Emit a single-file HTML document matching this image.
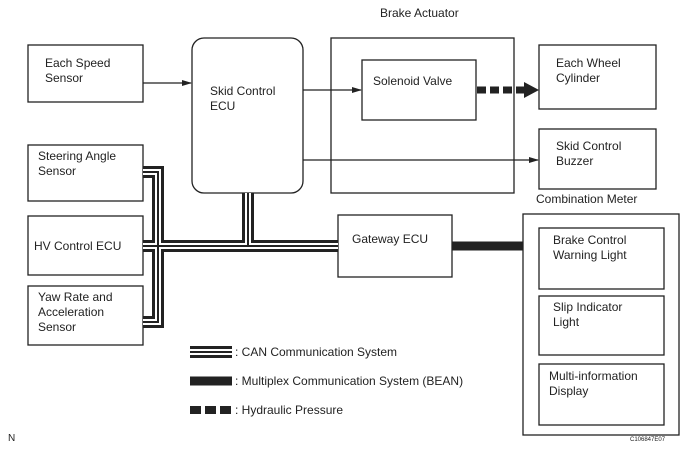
<!DOCTYPE html>
<html><head><style>
body{margin:0;background:#fff;}
svg text{font-family:"Liberation Sans",sans-serif;font-size:12px;fill:#222;}
</style></head><body>
<svg width="691" height="451" viewBox="0 0 691 451" xmlns="http://www.w3.org/2000/svg">
<defs><marker id="a" markerWidth="10" markerHeight="8" refX="9" refY="4" orient="auto" markerUnits="userSpaceOnUse"><path d="M0,1 L10,4 L0,7z" fill="#222"/></marker></defs>
<g fill="none" stroke="#222" stroke-width="1.3">
<rect x="28" y="45" width="115" height="57"/>
<rect x="192" y="38" width="111" height="155" rx="12"/>
<rect x="331" y="38" width="183" height="155"/>
<rect x="362" y="60" width="114" height="60"/>
<rect x="539" y="45" width="117" height="64"/>
<rect x="539" y="129" width="117" height="60"/>
<rect x="28" y="145" width="115" height="56"/>
<rect x="28" y="216" width="115" height="59"/>
<rect x="28" y="286" width="115" height="59"/>
<rect x="338" y="215" width="114" height="62"/>
<rect x="523" y="214" width="156" height="221"/>
<rect x="539" y="228" width="125" height="61"/>
<rect x="539" y="296" width="125" height="59"/>
<rect x="539" y="364" width="125" height="61"/>
<line x1="143" y1="83" x2="191" y2="83" marker-end="url(#a)"/>
<line x1="303" y1="90" x2="361" y2="90" marker-end="url(#a)"/>
<line x1="303" y1="160" x2="538" y2="160" marker-end="url(#a)"/>
</g>
<line x1="477" y1="90" x2="525" y2="90" stroke="#222" stroke-width="7" stroke-dasharray="9,4"/>
<path d="M524,82 L539,90 L524,98z" fill="#222"/>
<g fill="none" stroke-linejoin="miter">
<g stroke="#222" stroke-width="12"><path d="M143,172 H158 V322 H143"/><path d="M143,246 H338"/><path d="M248,193 V246"/></g>
<g stroke="#fff" stroke-width="6"><path d="M143,172 H158 V322 H143"/><path d="M143,246 H338"/><path d="M248,193 V246"/></g>
<g stroke="#222" stroke-width="2"><path d="M143,172 H158 V322 H143"/><path d="M143,246 H338"/><path d="M248,193 V246"/></g>
</g>
<line x1="452" y1="246" x2="523" y2="246" stroke="#222" stroke-width="9"/>
<line x1="190" y1="352" x2="232" y2="352" stroke="#222" stroke-width="12"/>
<line x1="190" y1="352" x2="232" y2="352" stroke="#fff" stroke-width="6"/>
<line x1="190" y1="352" x2="232" y2="352" stroke="#222" stroke-width="2"/>
<line x1="190" y1="381" x2="232" y2="381" stroke="#222" stroke-width="9"/>
<line x1="190" y1="410" x2="232" y2="410" stroke="#222" stroke-width="8" stroke-dasharray="11,4"/>
<text x="380" y="17">Brake Actuator</text>
<text x="45" y="67">Each Speed</text><text x="45" y="82">Sensor</text>
<text x="210" y="95">Skid Control</text><text x="210" y="110">ECU</text>
<text x="373" y="85">Solenoid Valve</text>
<text x="556" y="67">Each Wheel</text><text x="556" y="82">Cylinder</text>
<text x="556" y="150">Skid Control</text><text x="556" y="165">Buzzer</text>
<text x="536" y="203">Combination Meter</text>
<text x="38" y="160">Steering Angle</text><text x="38" y="175">Sensor</text>
<text x="34" y="250">HV Control ECU</text>
<text x="38" y="301">Yaw Rate and</text><text x="38" y="316">Acceleration</text><text x="38" y="331">Sensor</text>
<text x="352" y="243">Gateway ECU</text>
<text x="553" y="244">Brake Control</text><text x="553" y="259">Warning Light</text>
<text x="553" y="311">Slip Indicator</text><text x="553" y="326">Light</text>
<text x="549" y="380">Multi-information</text><text x="549" y="395">Display</text>
<text x="235" y="356">: CAN Communication System</text>
<text x="235" y="385">: Multiplex Communication System (BEAN)</text>
<text x="235" y="414">: Hydraulic Pressure</text>
<text x="8" y="441" style="font-size:10px">N</text>
<text x="630" y="441" style="font-size:6px">C106847E07</text>
</svg>
</body></html>
